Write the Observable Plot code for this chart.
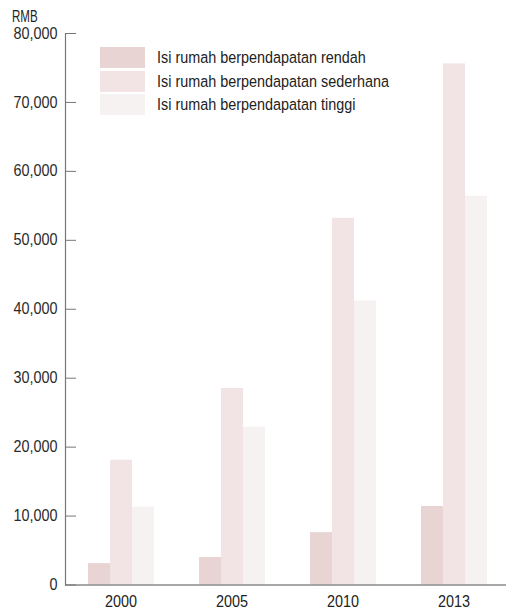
<!DOCTYPE html>
<html>
<head>
<meta charset="utf-8">
<script src="https://cdn.jsdelivr.net/npm/d3@7"></script>
<script src="https://cdn.jsdelivr.net/npm/@observablehq/plot@0.6"></script>
<style>
  html, body { margin: 0; padding: 0; background: #fff; overflow: hidden; }
  #wrap { position: relative; width: 506px; height: 611px; }
  .unit { position: absolute; left: 12px; top: 8px; font: 16.5px "Liberation Sans", Arial, sans-serif; color: #222; line-height: 1; transform: scaleX(0.7); transform-origin: left center; }
  .legend { position: absolute; left: 100px; top: 47px; font: 16.3px "Liberation Sans", Arial, sans-serif; color: #222; }
  .legend .row { display: flex; align-items: center; height: 21px; margin-bottom: 2.5px; }
  .legend .sw { width: 45px; height: 21px; margin-right: 12px; flex: none; }
  .legend .lbl { display: inline-block; white-space: nowrap; transform: scaleX(0.884); transform-origin: left center; }
</style>
</head>
<body>
<div id="wrap"></div>
<script>
const years = ["2000", "2005", "2010", "2013"];
const seriesNames = [
  "Isi rumah berpendapatan rendah",
  "Isi rumah berpendapatan sederhana",
  "Isi rumah berpendapatan tinggi"
];
const rendah = [3100, 4000, 7600, 11400];
const sederhana = [18100, 28500, 53200, 75600];
const tinggi = [11300, 22900, 41200, 56400];
const yTicks = [0, 10000, 20000, 30000, 40000, 50000, 60000, 70000, 80000];
const colors = ["#e9d4d4", "#f2e4e5", "#f7f2f2"];
const unitLabel = "RMB";

const seriesValues = [rendah, sederhana, tinggi];
const data = [];
years.forEach((yr, i) => {
  seriesNames.forEach((s, j) => data.push({year: yr, series: s, value: seriesValues[j][i]}));
});

const chart = Plot.plot({
  width: 506,
  height: 611,
  marginLeft: 65,
  marginRight: -3,
  marginTop: 33,
  marginBottom: 26.5,
  style: {fontFamily: "'Liberation Sans', Arial, sans-serif", fontSize: "16px", color: "#333", background: "transparent"},
  fx: {domain: years, paddingInner: 0, paddingOuter: 0, label: null},
  x: {domain: seriesNames, paddingInner: 0, paddingOuter: 0.967, axis: null},
  y: {domain: [0, 80000], label: null},
  color: {domain: seriesNames, range: colors},
  marks: [
    Plot.barY(data, {fx: "year", x: "series", y: "value", fill: "series"}),
    Plot.ruleY([0], {stroke: "#8a8a8a", strokeWidth: 1.6}),
    Plot.frame({anchor: "left", facetAnchor: "left", stroke: "#777", strokeWidth: 1.2}),
    Plot.axisY(yTicks, {anchor: "left", tickSize: -11, tickPadding: 19, stroke: "#777", tickFormat: d3.format(","), label: null, fill: "#2a2a2a"}),
    Plot.axisFx({anchor: "bottom", tickSize: 0, tickPadding: 10.5, label: null, fill: "#222"})
  ]
});

// condense the tick label glyphs horizontally (about their anchor point)
chart.querySelectorAll('g[aria-label="y-axis tick label"] text, g[aria-label="fx-axis tick label"] text').forEach((t) => {
  const tr = t.getAttribute("transform") || "";
  t.setAttribute("transform", (tr + " scale(0.9,1)").trim());
});

const wrap = document.getElementById("wrap");
wrap.appendChild(chart);

const unit = document.createElement("div");
unit.className = "unit";
unit.textContent = unitLabel;
wrap.appendChild(unit);

const legend = document.createElement("div");
legend.className = "legend";
seriesNames.forEach((s, j) => {
  const row = document.createElement("div");
  row.className = "row";
  const sw = document.createElement("div");
  sw.className = "sw";
  sw.style.background = colors[j];
  const t = document.createElement("span");
  t.className = "lbl";
  t.textContent = s;
  row.appendChild(sw);
  row.appendChild(t);
  legend.appendChild(row);
});
wrap.appendChild(legend);
</script>
</body>
</html>
